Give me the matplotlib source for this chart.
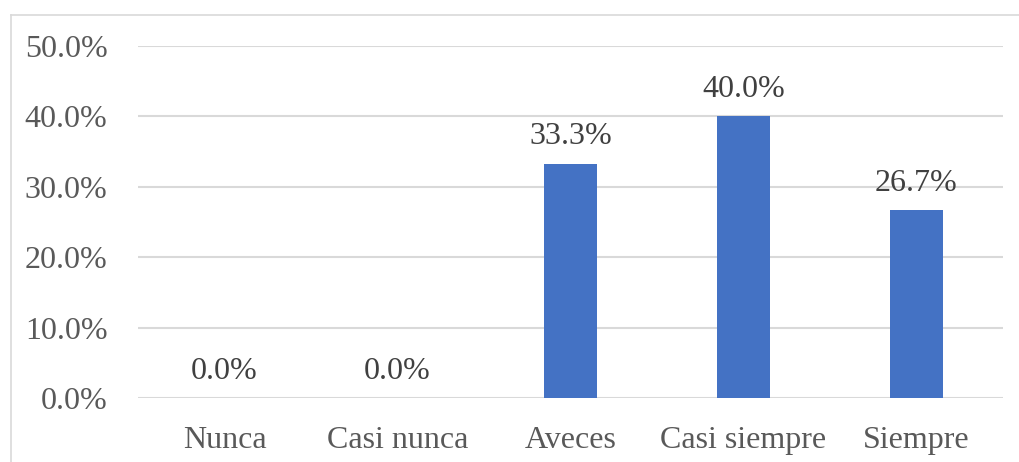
import matplotlib
matplotlib.use("Agg")
import matplotlib.pyplot as plt
from matplotlib.lines import Line2D
from matplotlib.ticker import FuncFormatter

categories = ["Nunca", "Casi nunca", "Aveces", "Casi siempre", "Siempre"]
values = [0.0, 0.0, 33.3, 40.0, 26.7]
y_ticks = [0, 10, 20, 30, 40, 50]

plt.rcParams["font.family"] = ["Liberation Serif", "DejaVu Serif"]

fig = plt.figure(figsize=(10.19, 4.62), dpi=100)
ax = fig.add_axes([0.1354, 0.1385, 0.8489, 0.7619])

x = range(len(categories))
bars = ax.bar(x, values, width=0.31, color="#4472c4", zorder=3)

for xi, v in zip(x, values):
    ax.annotate(f"{v:.1f}%", (xi, v), xytext=(0, 9), textcoords="offset points",
                ha="center", va="bottom", fontsize=23, color="#404040")

ax.set_xlim(-0.5, len(categories) - 0.5)
ax.set_ylim(0, 50)
ax.set_yticks(y_ticks)
ax.yaxis.set_major_formatter(FuncFormatter(lambda v, p: f"{v:.1f}%"))
ax.set_xticks(list(x))
ax.set_xticklabels(categories)
ax.tick_params(axis="both", length=0, labelsize=23, labelcolor="#595959")
ax.tick_params(axis="y", pad=22)
ax.tick_params(axis="x", pad=20)
ax.grid(axis="y", color="#d9d9d9", linewidth=1.5, zorder=0)
for s in ax.spines.values():
    s.set_visible(False)

# outer chart border (top and left visible in the crop)
fig.add_artist(Line2D([11 / 1019, 1.0], [1 - 15 / 462, 1 - 15 / 462],
                      transform=fig.transFigure, color="#d9d9d9", linewidth=1.2))
fig.add_artist(Line2D([11 / 1019, 11 / 1019], [0, 1 - 15 / 462],
                      transform=fig.transFigure, color="#d9d9d9", linewidth=1.2))

fig.savefig("out.png", dpi=100)
